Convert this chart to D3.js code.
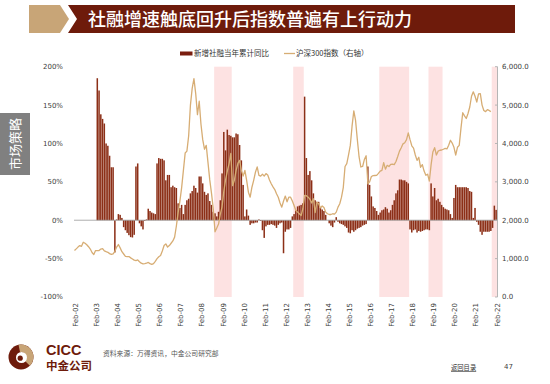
<!DOCTYPE html>
<html>
<head>
<meta charset="utf-8">
<script src="https://cdn.jsdelivr.net/npm/d3@7/dist/d3.min.js"></script>
<style>
  html, body { margin: 0; padding: 0; background: #fff; }
  svg { display: block; }
  .tick-label { font-family: "DejaVu Sans", sans-serif; font-size: 7px; fill: #404040; }
  .cjk { font-family: "Noto Sans CJK SC", sans-serif; }
</style>
</head>
<body>
<svg id="chart" width="550" height="384"></svg>
<script>
// 社融增速 vs 沪深300 — bars on left axis (%), index line on right axis

// month categories Feb-02 … Feb-22
const months = d3.timeMonth.range(new Date(2002, 1, 1), new Date(2022, 2, 1));
const parseMonth = d3.timeParse("%Y-%m");

// 新增社融当年累计同比 (%), monthly from 2003-03
const tsfStart = "2003-03";
const tsfYoY = [
  185, 169, 138, 132, 126, 100, 97, 84, 69, 69,                 // 2003 Mar-Dec
  -42, 1, 8, 7, 3, -9, -13, -16.5, -19.5, -22, -22.5, -19,      // 2004
  70, 74, -4, -8, -12, -1, 1, 15, 12, 10, 9, 8,                 // 2005
  74, 81, 80, 80, 78, 52, 59, 59, 43, 45, 43, 42,               // 2006
  22, 16, 20, 8, 20, 26, 28, 35, 38, 45, 42, 36,                // 2007
  57, 57, 48, 37, 33, 35, 25, 20, 11, 9, 5, 11,                 // 2008
  26, 61, 115, 91, 118, 111, 110, 108, 108, 113, 112, 98,       // 2009
  78, 46, 5, 14, 6, -6, -4, -4, -3, -3, 1, -1,                  // 2010
  -13, -23, -8, -6, -6, -5, -6, -7, -10, -6, -4, -3,            // 2011
  -43, -15, -12, -12, -10, 5, 8, 13, 18, 19, 20, 22,            // 2012
  161, 81, 59, 64, 52, 35, 26, 24, 24, 16, 14, 12,              // 2013
  7, 0, -4, -7, -9, -3, 4, -2, -4, -5, -6, -8,                  // 2014
  -10, -16, -17, -13, -15, -13, -11, -10, -9, -7, -6, -5,       // 2015
  70, 46, 31, 18, 16, 12, 7, 10, 13, 14, 17, 15,                // 2016
  10, 13, 20, 26, 35, 39, 53, 53, 52, 52, 50, 48,               // 2017
  -12, -16, -13, -12, -16, -14, -15, -14, -13, -12, -12, -13,   // 2018
  48, 31, 42, 26, 28, 24, 20, 17, 15, 14, 13, 8,                // 2019
  3, 29, 46, 43, 43, 43, 43, 43, 43, 42, 38, 37,                // 2020
  3, 16, -2, -6, -15, -19, -15, -15, -15, -15, -14, -10,        // 2021
  19, 13.5                                                      // 2022 Jan-Feb
];

// 沪深300指数 (right axis), monthly from 2002-02
const csiStart = "2002-02";
const csi300 = [
  1210, 1254, 1300, 1340, 1320, 1427, 1400, 1360, 1310, 1250, 1160,        // 2002 Feb-Dec
  1105, 1210, 1210, 1210, 1250, 1260, 1200, 1180, 1165, 1130, 1110, 1124,  // 2003
  1190, 1300, 1367, 1280, 1180, 1120, 1060, 1053, 1053, 1020, 990, 960,    // 2004
  950, 965, 920, 880, 862, 870, 880, 900, 870, 850, 870, 930,              // 2005
  1000, 1050, 1080, 1200, 1340, 1385, 1300, 1340, 1400, 1460, 1560, 1850,  // 2006
  2200, 2500, 2850, 3300, 3750, 3800, 4200, 5000, 5435, 5690, 5300, 4750,  // 2007
  5100, 4500, 4100, 3850, 3950, 3500, 3050, 2700, 2300, 1700, 1800, 1900,  // 2008
  2150, 2350, 2750, 3050, 3280, 3475, 3740, 2900, 3040, 3300, 3480, 3560,  // 2009
  3300, 3150, 3300, 3040, 2730, 2600, 2860, 3040, 3250, 3390, 3170, 3150,  // 2010
  3200, 3150, 3214, 3180, 3050, 2950, 2870, 2800, 2690, 2600, 2450, 2341,  // 2011
  2500, 2630, 2480, 2600, 2600, 2500, 2386, 2255, 2211, 2169, 2124, 2300,  // 2012
  2647, 2640, 2602, 2550, 2450, 2560, 2200, 2472, 2430, 2320, 2370, 2330,  // 2013
  2211, 2169, 2150, 2150, 2169, 2160, 2211, 2341, 2430, 2600, 2850, 3400,  // 2014
  3474, 3700, 3950, 4450, 4850, 4600, 4100, 3648, 3387, 3400, 3580, 3680,  // 2015
  2950, 3000, 3140, 3160, 3165, 3170, 3220, 3280, 3300, 3500, 3330, 3431,  // 2016
  3400, 3457, 3460, 3450, 3530, 3660, 3800, 3890, 3990, 4020, 4100, 4275,  // 2017
  4100, 3940, 3880, 3700, 3560, 3640, 3380, 3450, 3280, 3170, 3200, 3021,  // 2018
  3450, 3780, 3890, 3700, 3800, 3823, 3830, 3850, 3870, 3860, 3953, 4084,  // 2019
  4010, 3900, 3700, 3900, 3950, 4400, 4800, 4720, 4650, 4780, 4950, 5230,  // 2020
  5346, 5230, 5080, 5290, 5300, 5000, 4860, 4830, 4880, 4860, 4830         // 2021 Jan-Nov
];

// shaded periods (start, end month inclusive)
const shadeStarts = ["2008-10", "2012-07", "2016-08", "2018-12", "2021-12"];
const shadeEnds   = ["2009-07", "2012-12", "2017-12", "2019-07", "2022-02"];

const leftTicks = [-100, -50, 0, 50, 100, 150, 200];
const rightTicks = [0, 1000, 2000, 3000, 4000, 5000, 6000];

const C = {
  bar: "#8c2f17", line: "#d7ad74", band: "#fde2e2",
  red: "#6e1b0b", tan: "#c8a577", axis: "#b5b5b5", zero: "#9a9a9a"
};

const svg = d3.select("#chart");
const idx = m => d3.timeMonth.count(months[0], m);

const x = d3.scaleBand().domain(d3.range(months.length)).range([73.6, 497]).padding(0);
const yL = d3.scaleLinear().domain([-100, 200]).range([297, 66.7]);
const yR = d3.scaleLinear().domain([0, 6000]).range([297, 66.7]);
const bw = x.bandwidth();

// ── title banner ──
svg.append("polygon").attr("points", "29,5 60,5 69,19 60,33 29,33").attr("fill", C.tan);
svg.append("polygon").attr("points", "68,5 515,5 515,33 68,33 77,19").attr("fill", C.red);
svg.append("text").attr("class", "cjk")
  .attr("x", 88).attr("y", 26).attr("fill", "#fff")
  .attr("font-size", 18).attr("font-weight", 500)
  .text("社融增速触底回升后指数普遍有上行动力");

// ── side tab ──
svg.append("rect").attr("x", 0).attr("y", 113).attr("width", 30).attr("height", 62).attr("fill", "#808080");
svg.append("text").attr("class", "cjk")
  .attr("transform", "translate(15,144) rotate(-90)")
  .attr("text-anchor", "middle").attr("dy", "0.36em")
  .attr("fill", "#fff").attr("font-size", 13)
  .text("市场策略");

// ── legend ──
const lg = svg.append("g").attr("class", "cjk").attr("font-size", 7.5).attr("fill", "#333");
lg.append("rect").attr("x", 180).attr("y", 51.5).attr("width", 12.5).attr("height", 4).attr("fill", "#7a1e10");
lg.append("text").attr("x", 194).attr("y", 56.2).text("新增社融当年累计同比");
lg.append("line").attr("x1", 284).attr("x2", 295).attr("y1", 53.5).attr("y2", 53.5)
  .attr("stroke", C.line).attr("stroke-width", 1.3);
lg.append("text").attr("x", 296).attr("y", 56.2).text("沪深300指数（右轴）");

// ── shaded periods ──
svg.append("g").selectAll("rect")
  .data(d3.zip(shadeStarts, shadeEnds)).join("rect")
  .attr("x", d => x(idx(parseMonth(d[0]))))
  .attr("width", d => x(idx(parseMonth(d[1]))) + bw - x(idx(parseMonth(d[0]))))
  .attr("y", yL(200)).attr("height", yL(-100) - yL(200))
  .attr("fill", C.band);

// ── bars ──
const k0 = idx(parseMonth(tsfStart));
svg.append("g").selectAll("rect")
  .data(tsfYoY).join("rect")
  .attr("x", (d, i) => x(k0 + i) + bw * 0.06)
  .attr("width", bw * 0.86)
  .attr("y", d => yL(Math.max(0, d)))
  .attr("height", d => Math.abs(yL(d) - yL(0)))
  .attr("fill", C.bar);

// zero line
svg.append("line")
  .attr("x1", 74).attr("x2", 497).attr("y1", yL(0)).attr("y2", yL(0))
  .attr("stroke", C.zero).attr("stroke-width", 0.8);

// ── index line ──
const c0 = idx(parseMonth(csiStart));
svg.append("path")
  .datum(csi300)
  .attr("fill", "none").attr("stroke", C.line).attr("stroke-width", 1.3)
  .attr("stroke-linejoin", "round")
  .attr("d", d3.line().x((d, i) => x(c0 + i) + bw / 2).y(d => yR(d)));

// ── left axis labels ──
svg.append("g").selectAll("text")
  .data(leftTicks).join("text")
  .attr("class", "tick-label")
  .attr("x", 63).attr("y", d => yL(d)).attr("dy", "0.35em")
  .attr("text-anchor", "end")
  .text(d => d + "%");

// ── right axis ──
const ra = svg.append("g");
ra.append("line").attr("x1", 497.5).attr("x2", 497.5).attr("y1", yR(6000)).attr("y2", yR(0))
  .attr("stroke", C.axis).attr("stroke-width", 1);
ra.selectAll("line.t").data(rightTicks).join("line").attr("class", "t")
  .attr("x1", 495).attr("x2", 497.5).attr("y1", d => yR(d)).attr("y2", d => yR(d))
  .attr("stroke", C.axis).attr("stroke-width", 1);
ra.selectAll("text").data(rightTicks).join("text")
  .attr("class", "tick-label")
  .attr("x", 502).attr("y", d => yR(d)).attr("dy", "0.35em")
  .text(d3.format(",.1f"));

// ── x labels (every February) ──
const fmt = d3.timeFormat("%b-%y");
svg.append("g").selectAll("text")
  .data(months.filter(m => m.getMonth() === 1)).join("text")
  .attr("class", "tick-label")
  .attr("transform", m => `translate(${x(idx(m)) + bw / 2 + 1},303) rotate(-90)`)
  .attr("dy", "0.35em").attr("text-anchor", "end")
  .text(fmt);

// ── footer ──
const logo = svg.append("g").attr("transform", "translate(21,357)");
logo.append("circle").attr("r", 12.5).attr("fill", C.red);
logo.append("path").attr("d", d3.arc().innerRadius(5).outerRadius(12.5).startAngle(-0.2).endAngle(Math.PI * 0.75)())
  .attr("fill", C.tan);
logo.append("circle").attr("cx", 0.5).attr("cy", 0.5).attr("r", 5.5).attr("fill", "#fff");
logo.append("circle").attr("cx", -0.8).attr("cy", 1.2).attr("r", 2.6).attr("fill", C.red);

svg.append("text").attr("x", 46).attr("y", 355).attr("fill", C.red)
  .attr("font-family", "'Liberation Sans', Arial, sans-serif").attr("font-weight", "bold")
  .attr("font-size", 14.5).text("CICC");
svg.append("text").attr("class", "cjk").attr("x", 46).attr("y", 370).attr("fill", C.red)
  .attr("font-weight", "bold").attr("font-size", 11.5).text("中金公司");

svg.append("text").attr("class", "cjk").attr("x", 103).attr("y", 356)
  .attr("font-size", 6.8).attr("fill", "#555")
  .text("资料来源：万得资讯，中金公司研究部");
svg.append("text").attr("class", "cjk").attr("x", 451).attr("y", 370)
  .attr("font-size", 6.3).attr("fill", "#333").attr("text-decoration", "underline")
  .text("返回目录");
svg.append("text").attr("class", "tick-label").attr("x", 504).attr("y", 369)
  .attr("font-size", 5).text("47");
</script>
</body>
</html>
